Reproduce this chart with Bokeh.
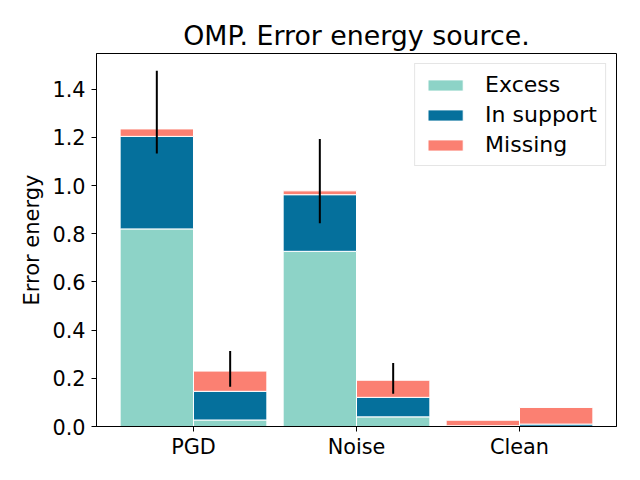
import numpy as np
from bokeh.plotting import figure
from bokeh.models import FixedTicker, PrintfTickFormatter, Range1d, Legend, LegendItem, ColumnDataSource
from bokeh.embed import file_html
from bokeh.resources import INLINE

categories = ["PGD", "Noise", "Clean"]
series = ["Excess", "In support", "Missing"]
colors = ["#8dd3c7", "#05709c", "#fb8072"]

# first (left) bar of each group
excess_a = [0.820, 0.727, 0.002]
support_a = [0.384, 0.235, 0.001]
missing_a = [0.031, 0.016, 0.023]
err_lo_a = [1.133, 0.843, 0.026]
err_hi_a = [1.476, 1.193, 0.026]

# second (right) bar of each group
excess_b = [0.027, 0.040, 0.001]
support_b = [0.119, 0.081, 0.009]
missing_b = [0.084, 0.071, 0.069]
err_lo_b = [0.165, 0.136, 0.079]
err_hi_b = [0.313, 0.264, 0.079]

yticks = [0.0, 0.2, 0.4, 0.6, 0.8, 1.0, 1.2, 1.4]

FONT = "DejaVu Sans"
bar_w = 0.45
idx = np.arange(len(categories), dtype=float)

p = figure(frame_width=520, frame_height=373,
           min_border_left=96, min_border_right=16, min_border_top=53, min_border_bottom=46,
           x_range=Range1d(-0.595, 2.595), y_range=Range1d(0, 1.548),
           output_backend="svg", toolbar_location=None,
           title="OMP. Error energy source.")

p.title.align = "center"
p.title.text_font = FONT
p.title.text_font_size = "26.8px"
p.title.text_font_style = "normal"
p.title.text_color = "black"
p.title.standoff = 5

renderers = {}
for offs, stacks, lo, hi in [(-bar_w / 2, [excess_a, support_a, missing_a], err_lo_a, err_hi_a),
                             (bar_w / 2, [excess_b, support_b, missing_b], err_lo_b, err_hi_b)]:
    x = idx + offs
    bottom = np.zeros(len(categories))
    for name, vals, col in zip(series, stacks, colors):
        top = bottom + np.array(vals)
        src = ColumnDataSource(dict(x=x, bottom=bottom.copy(), top=top))
        r = p.vbar(x="x", width=bar_w, bottom="bottom", top="top", source=src,
                   fill_color=col, line_color="white", line_width=1)
        renderers.setdefault(name, r)
        bottom = top
    p.segment(x0=x, x1=x, y0=lo, y1=hi, line_color="black", line_width=2)

legend = Legend(items=[LegendItem(label=n, renderers=[renderers[n]]) for n in series],
                location="top_right")
legend.label_text_font = FONT
legend.label_text_font_size = "22px"
legend.label_text_color = "black"
legend.glyph_width = 44
legend.glyph_height = 14
legend.label_standoff = 18
legend.label_height = 21
legend.spacing = 5
legend.padding = 8
legend.margin = 10
legend.border_line_color = "#cccccc"
legend.border_line_width = 1
legend.background_fill_alpha = 0.8
p.add_layout(legend, "center")

p.xgrid.visible = False
p.ygrid.visible = False
p.outline_line_color = "black"
p.outline_line_width = 1
p.outline_line_alpha = 1

p.xaxis.ticker = FixedTicker(ticks=list(idx))
p.xaxis.major_label_overrides = {float(i): c for i, c in enumerate(categories)}
p.yaxis.ticker = FixedTicker(ticks=yticks)
p.yaxis.formatter = PrintfTickFormatter(format="%.1f")
p.yaxis.axis_label = "Error energy"

for ax in (p.xaxis, p.yaxis):
    ax.major_label_text_font = FONT
    ax.major_label_text_font_size = "20.8px"
    ax.major_label_text_color = "black"
    ax.axis_label_text_font = FONT
    ax.axis_label_text_font_size = "21px"
    ax.axis_label_text_font_style = "normal"
    ax.axis_label_text_color = "black"
    ax.axis_line_color = "black"
    ax.major_tick_line_color = "black"
    ax.major_tick_out = 5
    ax.major_tick_in = 0
    ax.minor_tick_line_color = None
    ax.major_label_standoff = 5
p.xaxis.major_label_standoff = 3
p.yaxis.major_label_standoff = 6
p.yaxis.axis_label_standoff = 5

open("out.html", "w").write(file_html(p, INLINE))
